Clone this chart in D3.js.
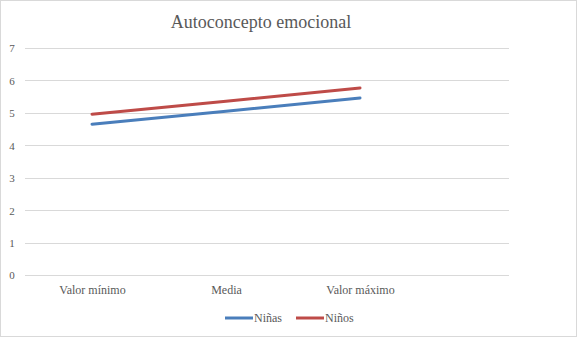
<!DOCTYPE html>
<html><head><meta charset="utf-8">
<script src="https://cdn.jsdelivr.net/npm/d3@7"></script>
<style>body{margin:0;background:#fff}svg{display:block}</style>
</head><body>
<script>
const categories = ["Valor mínimo", "Media", "Valor máximo"];
const ninas = [4.65, 5.05, 5.46];
const ninos = [4.96, 5.36, 5.77];
const yTicks = [0, 1, 2, 3, 4, 5, 6, 7];
const seriesNames = ["Niñas", "Niños"];
const seriesColors = ["#4a7ebb", "#be4b48"];
const title = "Autoconcepto emocional";

const W = 577, H = 337;
const font = "'Liberation Serif', 'DejaVu Serif', serif";
const svg = d3.select("body").append("svg").attr("width", W).attr("height", H);
svg.append("rect").attr("x", 0.5).attr("y", 0.5).attr("width", W - 1).attr("height", H - 1)
  .attr("fill", "#fff").attr("stroke", "#d9d9d9");

const plotL = 25, plotR = 509;
const y = d3.scaleLinear().domain([0, 7]).range([275, 48]);
const x = d3.scalePoint().domain(categories).range([92, 360]);

svg.append("text").attr("x", 262).attr("y", 28).attr("text-anchor", "middle")
  .attr("font-family", font).attr("font-size", 18).attr("fill", "#595959").text(title)
  .attr("x", 261);

const g = svg.append("g");
g.selectAll("line.grid").data(yTicks).join("line").attr("class", "grid")
  .attr("x1", plotL).attr("x2", plotR)
  .attr("y1", d => Math.round(y(d)) + 0.5).attr("y2", d => Math.round(y(d)) + 0.5)
  .attr("stroke", "#d9d9d9").attr("stroke-width", 1);

const yAxis = d3.axisLeft(y).tickValues(yTicks).tickFormat(d3.format("d")).tickSize(0).tickPadding(0);
const ya = svg.append("g").attr("transform", "translate(12,0)").call(yAxis);
ya.select(".domain").remove();
ya.selectAll("text").attr("font-family", font).attr("font-size", 11).attr("fill", "#595959")
  .attr("text-anchor", "middle").attr("dy", "0.35em");

const xAxis = d3.axisBottom(x).tickSize(0).tickPadding(0);
const xa = svg.append("g").attr("transform", "translate(0,285)").call(xAxis);
xa.select(".domain").remove();
xa.selectAll("text").attr("font-family", font).attr("font-size", 12).attr("fill", "#595959").attr("dy", "0.71em");

const line = d3.line().x((d, i) => x(categories[i])).y(d => y(d));
[ninas, ninos].forEach((s, k) => {
  svg.append("path").datum(s).attr("d", line).attr("fill", "none")
    .attr("stroke", seriesColors[k]).attr("stroke-width", 3).attr("stroke-linecap", "round");
});

const legendX = [225, 296];
seriesNames.forEach((n, k) => {
  const lg = svg.append("g").attr("transform", `translate(${legendX[k]},318)`);
  lg.append("line").attr("x1", 0).attr("x2", 28).attr("stroke", seriesColors[k]).attr("stroke-width", 3);
  lg.append("text").attr("x", 29).attr("dy", "0.35em").attr("font-family", font).attr("font-size", 12)
    .attr("fill", "#595959").text(n);
});
</script>
</body></html>
